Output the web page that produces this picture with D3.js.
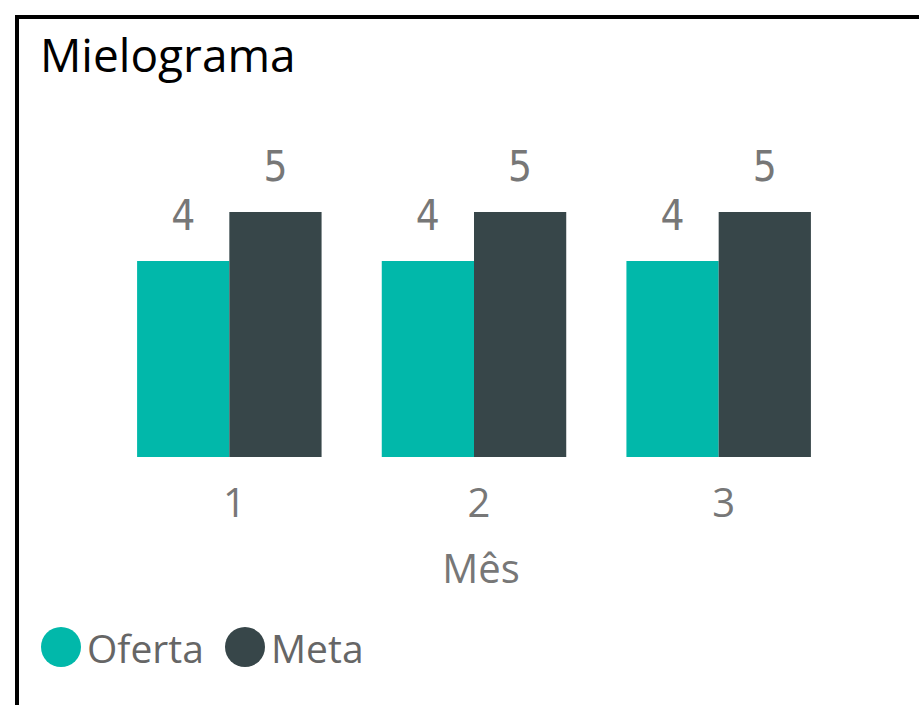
<!DOCTYPE html>
<html>
<head>
<meta charset="utf-8">
<script src="https://cdn.jsdelivr.net/npm/d3@7"></script>
<style>
  body { margin: 0; background: #fff; }
  svg { display: block; }
</style>
</head>
<body>
<svg id="chart"></svg>
<script>
// dados do gráfico
var meses = ["1", "2", "3"];
var series = ["Oferta", "Meta"];
var oferta = [4, 4, 4];
var meta = [5, 5, 5];
var cores = ["#01B8AA", "#374649"];

var width = 919, height = 705;

var svg = d3.select("#chart")
   .attr("width", width)
   .attr("height", height);

// moldura preta (topo e esquerda visíveis)
svg.append("rect")
   .attr("x", 17)
   .attr("y", 17)
   .attr("width", width + 20)
   .attr("height", height + 20)
   .style("fill", "none")
   .style("stroke", "#000")
   .style("stroke-width", 4);

// título
svg.append("text")
   .attr("x", 40)
   .attr("y", 72)
   .style("font-family", "'Open Sans', 'Noto Sans', sans-serif")
   .style("font-size", "46px")
   .style("fill", "#000")
   .text("Mielograma");

var dados = meses.map(function(m, i) {
   return { mes: m, valores: [oferta[i], meta[i]] };
});

// escalas
var x0 = d3.scaleBand()
   .domain(meses)
   .range([107, 841])
   .paddingInner(0.246)
   .paddingOuter(0.123);

var x1 = d3.scaleBand()
   .domain(series)
   .range([0, x0.bandwidth()]);

var y = d3.scaleLinear()
   .domain([0, 5])
   .range([457, 212]);

var grupos = svg.selectAll(".grupo")
   .data(dados)
   .enter().append("g")
   .attr("class", "grupo")
   .attr("transform", function(d) { return "translate(" + x0(d.mes) + ",0)"; });

grupos.selectAll("rect")
   .data(function(d) { return d.valores.map(function(v, i) { return { serie: series[i], valor: v }; }); })
   .enter().append("rect")
   .attr("x", function(d) { return x1(d.serie); })
   .attr("y", function(d) { return y(d.valor); })
   .attr("width", x1.bandwidth())
   .attr("height", function(d) { return y(0) - y(d.valor); })
   .style("fill", function(d, i) { return cores[i]; });

// rótulos de dados
grupos.selectAll(".rotulo")
   .data(function(d) { return d.valores.map(function(v, i) { return { serie: series[i], valor: v }; }); })
   .enter().append("text")
   .attr("class", "rotulo")
   .attr("x", function(d) { return x1(d.serie) + x1.bandwidth() / 2; })
   .attr("y", function(d) { return y(d.valor) - 31; })
   .attr("text-anchor", "middle")
   .style("font-family", "'DejaVu Sans Condensed', Roboto, sans-serif")
   .style("font-size", "42px")
   .style("fill", "#777")
   .text(function(d) { return d.valor; });

// eixo x
var xAxis = d3.axisBottom(x0).tickSize(0).tickPadding(30);
var xAxisG = svg.append("g")
   .attr("transform", "translate(0,457)")
   .call(xAxis);
xAxisG.select(".domain").remove();
xAxisG.selectAll("text")
   .attr("dy", null)
   .attr("x", 5)
   .attr("y", 60)
   .style("font-family", "'Open Sans', 'Noto Sans', sans-serif")
   .style("font-size", "40px")
   .style("fill", "#777");

// título do eixo
svg.append("text")
   .attr("x", 481)
   .attr("y", 583)
   .attr("text-anchor", "middle")
   .style("font-family", "'Open Sans', 'Noto Sans', sans-serif")
   .style("font-size", "40px")
   .style("fill", "#777")
   .text("Mês");

// legenda
var legenda = svg.append("g").attr("class", "legenda");
var posLeg = [61, 245];
series.forEach(function(s, i) {
   legenda.append("circle")
      .attr("cx", posLeg[i])
      .attr("cy", 647)
      .attr("r", 20)
      .style("fill", cores[i]);
   legenda.append("text")
      .attr("x", posLeg[i] + 26)
      .attr("y", 663)
      .style("font-family", "'Open Sans', 'Noto Sans', sans-serif")
      .style("font-size", "39px")
      .style("fill", "#666")
      .text(s);
});
</script>
</body>
</html>
